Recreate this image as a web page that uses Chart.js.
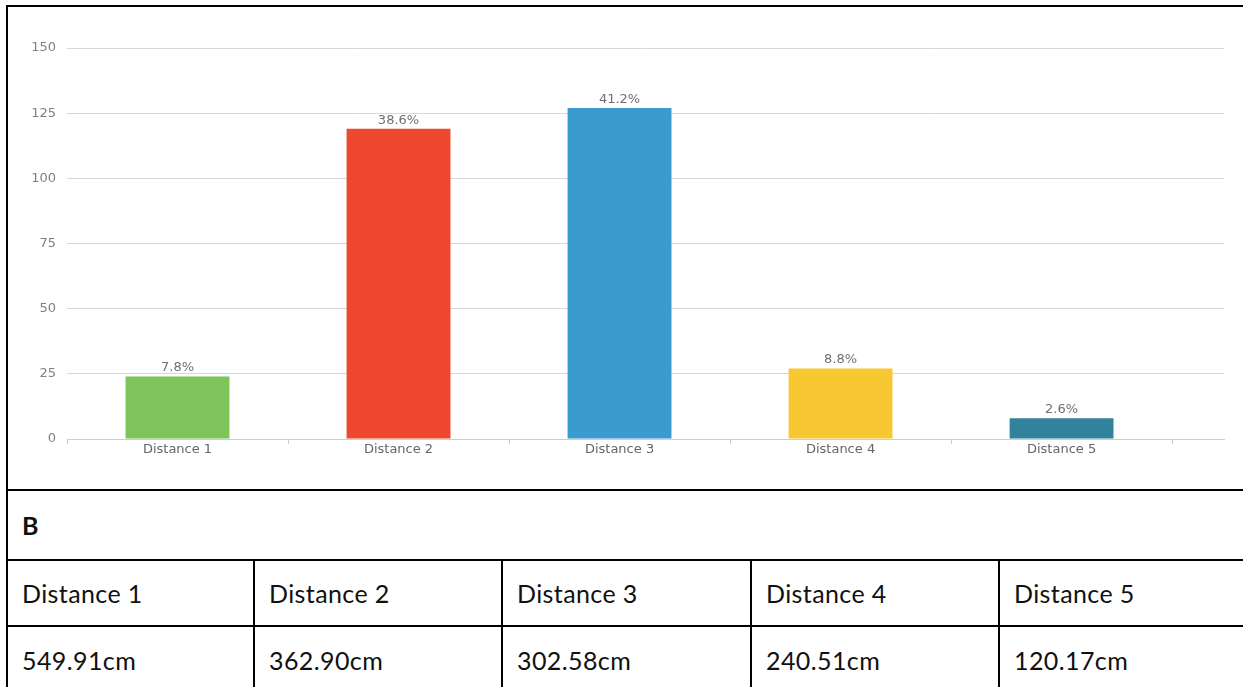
<!DOCTYPE html>
<html>
<head>
<meta charset="utf-8">
<script src="https://cdn.jsdelivr.net/npm/chart.js@4.4.1/dist/chart.umd.min.js"></script>
<style>
  html, body { margin: 0; padding: 0; background: #fff; }
  body { width: 1243px; height: 687px; position: relative; overflow: hidden; font-family: Lato, "Open Sans", sans-serif; }
  .line { position: absolute; background: #000; }
  .cell { position: absolute; font-size: 25px; letter-spacing: 0.4px; color: #111; white-space: nowrap; }
  .bold { font-weight: bold; }
  #chartBox { position: absolute; left: 8px; top: 7px; width: 1235px; height: 482px; }
</style>
</head>
<body>
<div id="chartBox"><canvas id="c"></canvas></div>
<div id="grid"></div>
<script>
// Bar chart data
const categories = ['Distance 1', 'Distance 2', 'Distance 3', 'Distance 4', 'Distance 5'];
const counts = [24, 119, 127, 27, 8];
const shares = [7.8, 38.6, 41.2, 8.8, 2.6];
const barColors = ['#7DC45A', '#EE482F', '#3B9ACE', '#F8C832', '#31829A'];
const yTicks = [0, 25, 50, 75, 100, 125, 150];

// Table B
const tableTitle = 'B';
const tableHeaders = ['Distance 1', 'Distance 2', 'Distance 3', 'Distance 4', 'Distance 5'];
const tableValues = ['549.91cm', '362.90cm', '302.58cm', '240.51cm', '120.17cm'];

// Value labels above each bar
const shareLabels = {
  id: 'shareLabels',
  afterDatasetsDraw(chart) {
    const ctx = chart.ctx;
    const meta = chart.getDatasetMeta(0);
    ctx.save();
    ctx.font = '13px "DejaVu Sans"';
    ctx.fillStyle = '#707070';
    ctx.textAlign = 'center';
    ctx.textBaseline = 'bottom';
    meta.data.forEach((bar, i) => {
      ctx.fillText(shares[i].toFixed(1) + '%', bar.x, bar.y - 2);
    });
    ctx.restore();
  }
};

new Chart(document.getElementById('c'), {
  type: 'bar',
  data: {
    datasets: [{
      data: categories.map((c, i) => ({ x: i + 0.5, y: counts[i] })),
      backgroundColor: barColors,
      borderWidth: 0,
      categoryPercentage: 1,
      barPercentage: 0.47
    }]
  },
  plugins: [shareLabels],
  options: {
    responsive: true,
    maintainAspectRatio: false,
    animation: false,
    layout: { padding: { top: 41, right: 19, left: 0, bottom: 0 } },
    plugins: { legend: { display: false }, tooltip: { enabled: false } },
    scales: {
      x: {
        type: 'linear',
        offset: false,
        min: 0,
        max: 5.235,
        afterBuildTicks: s => { s.ticks = categories.map((c, i) => ({ value: i + 0.5 })); },
        afterFit: s => { s.height = 50; },
        border: { display: true, color: '#C0D0E0', width: 1 },
        grid: { offset: true, drawOnChartArea: false, drawTicks: true, tickLength: 5, tickColor: '#C0D0E0' },
        ticks: {
          autoSkip: false, maxRotation: 0, padding: -2,
          color: '#666', font: { family: '"DejaVu Sans"', size: 13 },
          callback: (v, i) => categories[i]
        }
      },
      y: {
        min: 0,
        max: 150,
        afterBuildTicks: s => { s.ticks = yTicks.map(v => ({ value: v })); },
        afterFit: s => { s.width = 59; },
        border: { display: false },
        grid: { color: '#D8D8D8', drawTicks: false, lineWidth: 1 },
        ticks: { padding: 11, color: '#808080', font: { family: '"DejaVu Sans"', size: 13 } }
      }
    }
  }
});

// Frame and table lines
const grid = document.getElementById('grid');
function line(x, y, w, h) {
  const d = document.createElement('div');
  d.className = 'line';
  d.style.left = x + 'px'; d.style.top = y + 'px';
  d.style.width = w + 'px'; d.style.height = h + 'px';
  grid.appendChild(d);
}
function text(x, y, h, s, cls) {
  const d = document.createElement('div');
  d.className = 'cell' + (cls ? ' ' + cls : '');
  d.style.left = x + 'px'; d.style.top = y + 'px';
  d.style.height = h + 'px'; d.style.lineHeight = h + 'px';
  d.textContent = s;
  grid.appendChild(d);
}
line(6, 5, 1240, 2);
line(6, 5, 2, 690);
line(6, 489, 1240, 2);
line(6, 559, 1240, 2);
line(6, 625, 1240, 2);
const colX = [6, 253, 501, 750, 998];
colX.slice(1).forEach(x => line(x, 559, 2, 140));
text(22, 491, 68, tableTitle, 'bold');
tableHeaders.forEach((h, i) => text(colX[i] + 16, 561, 64, h));
tableValues.forEach((v, i) => text(colX[i] + 16, 627, 66, v));
</script>
</body>
</html>
